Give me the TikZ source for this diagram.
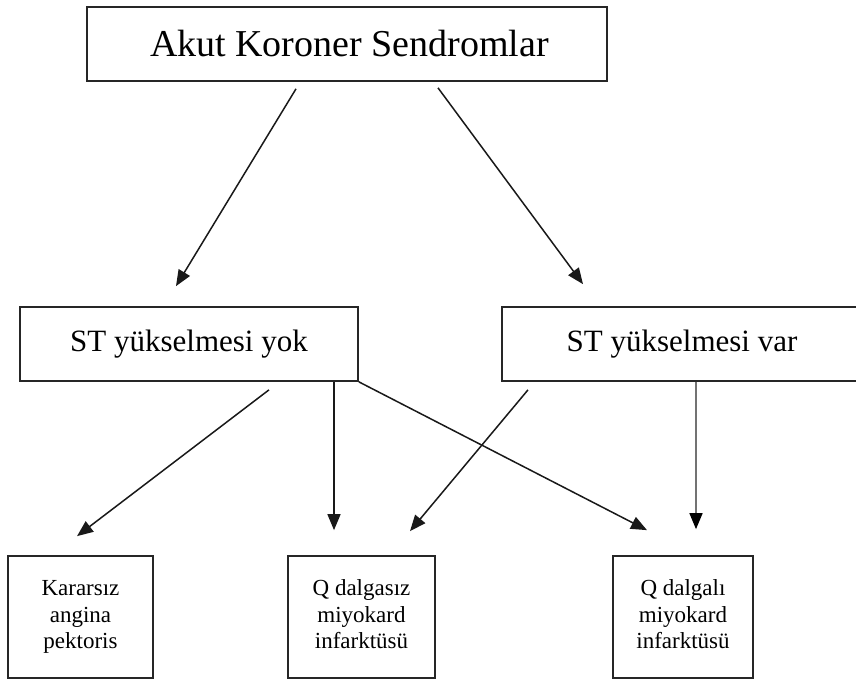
\documentclass[tikz,border=0pt]{standalone}
\usepackage{fontspec}
\setmainfont{Liberation Serif}
\usetikzlibrary{arrows.meta}
\newcommand{\stackup}[1]{\raisebox{4pt}{\begin{tabular}{@{}c@{}}#1\end{tabular}}}
\begin{document}
\begin{tikzpicture}[x=1pt,y=-1pt,
  boxst/.style={draw=black!85,line width=1.7pt,inner sep=0pt,align=center},
  arr/.style={draw=black!90,line width=1.5pt,-{Triangle[length=16pt,width=13pt]}},
  greyarr/.style={draw=black!55,line width=1.5pt,-{Triangle[length=16pt,width=13pt,color=black]}},
  toptext/.style={font=\fontsize{38}{44}\selectfont},
  midtext/.style={font=\fontsize{31}{34}\selectfont},
  bottext/.style={font=\fontsize{23}{26.5}\selectfont}]
\useasboundingbox (0,0) rectangle (856,682);
\node[boxst,toptext,minimum width=520pt,minimum height=74pt] (top) at (347,44) {\hspace{5pt}Akut Koroner Sendromlar};
\node[boxst,midtext,minimum width=338pt,minimum height=74pt] (sL) at (189,344) {\raisebox{3pt}{ST yükselmesi yok}};
\node[boxst,midtext,minimum width=360pt,minimum height=74pt] (sR) at (682,344) {\raisebox{3pt}{ST yükselmesi var}};
\node[boxst,bottext,minimum width=145pt,minimum height=122pt] (b1) at (80.5,617) {\stackup{Kararsız\\angina\\pektoris}};
\node[boxst,bottext,minimum width=147pt,minimum height=122pt] (b2) at (361.5,617) {\stackup{Q dalgasız\\miyokard\\infarktüsü}};
\node[boxst,bottext,minimum width=140pt,minimum height=122pt] (b3) at (683,617) {\stackup{Q dalgalı\\miyokard\\infarktüsü}};
\draw[arr] ([xshift=-51pt,yshift=-7pt]top.south) -- ([xshift=-13pt,yshift=20pt]sL.north);
\draw[arr] ([xshift=91pt,yshift=-6pt]top.south) -- ([xshift=-99pt,yshift=22pt]sR.north);
\draw[arr] ([xshift=80pt,yshift=-8pt]sL.south) -- ([xshift=-3.5pt,yshift=19pt]b1.north);
\draw[arr] ([xshift=145pt]sL.south) -- ([xshift=-27.5pt,yshift=25pt]b2.north);
\draw[arr] (sL.south east) -- ([xshift=-36pt,yshift=25pt]b3.north);
\draw[arr] ([xshift=-154pt,yshift=-8pt]sR.south) -- ([xshift=48.5pt,yshift=24pt]b2.north);
\draw[greyarr] ([xshift=14pt]sR.south) -- ([xshift=13pt,yshift=26pt]b3.north);
\end{tikzpicture}
\end{document}
